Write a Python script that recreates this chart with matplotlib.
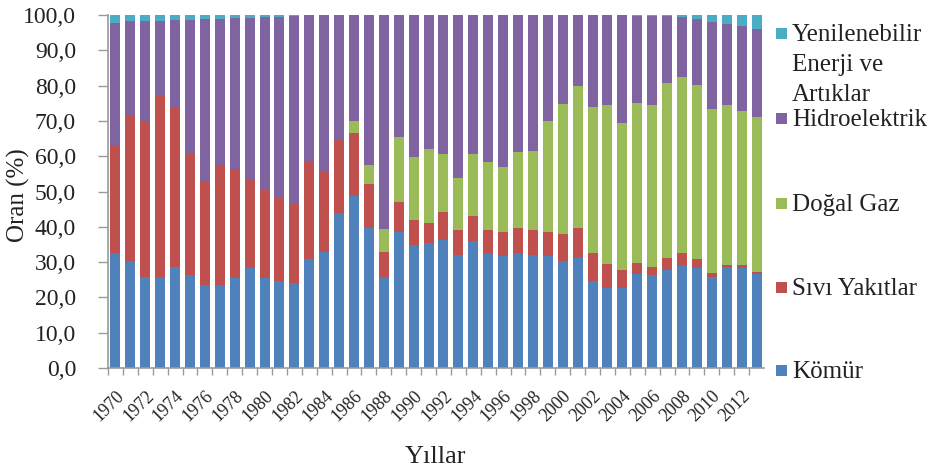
import numpy as np
import matplotlib
matplotlib.use('Agg')
import matplotlib.pyplot as plt
from matplotlib.patches import Rectangle

plt.rcParams['font.family'] = ['Liberation Serif', 'DejaVu Serif']

years = list(range(1970, 2014))

# shares of electricity generation by source (%)
komur = [32.5, 30.3, 25.9, 25.9, 28.6, 26.3, 23.5, 23.5, 25.6, 28.4, 25.6, 24.6, 24.1,
         31.0, 32.9, 43.9, 48.7, 39.7, 25.9, 38.6, 34.8, 35.5, 36.3, 32.1, 35.9, 32.5,
         31.8, 32.5, 32.1, 31.7, 30.4, 31.1, 24.6, 22.8, 22.8, 26.6, 26.3, 27.7, 29.0,
         28.3, 25.9, 28.6, 28.3, 26.5]
sivi = [30.3, 41.5, 44.2, 51.3, 45.0, 34.4, 29.6, 33.8, 30.7, 25.2, 24.9, 23.7, 22.5,
        27.3, 22.8, 20.8, 17.9, 12.5, 7.0, 8.4, 7.1, 5.6, 8.0, 7.0, 7.3, 6.6,
        6.8, 7.1, 7.0, 6.9, 7.6, 8.5, 8.1, 6.6, 4.9, 3.1, 2.4, 3.5, 3.7,
        2.5, 1.1, 0.5, 0.8, 0.7]
dogalgaz = [0.0, 0.0, 0.0, 0.0, 0.0, 0.0, 0.0, 0.0, 0.0, 0.0, 0.0, 0.0, 0.0,
            0.0, 0.0, 0.0, 3.5, 5.4, 6.6, 18.3, 17.9, 21.0, 16.2, 14.8, 17.5, 19.3,
            18.4, 21.5, 22.3, 31.5, 36.8, 40.4, 41.1, 45.1, 41.7, 45.5, 45.8, 49.5, 49.7,
            49.5, 46.5, 45.4, 43.8, 43.9]
hidro = [35.0, 26.5, 28.2, 21.1, 25.0, 37.9, 45.9, 41.7, 42.8, 45.6, 48.8, 51.2, 53.2,
         41.6, 44.2, 35.2, 29.8, 42.3, 60.4, 34.6, 40.1, 37.8, 39.4, 46.0, 39.2, 41.5,
         42.9, 38.8, 38.5, 29.8, 25.1, 19.9, 26.1, 25.4, 30.5, 24.6, 25.3, 19.0, 16.9,
         18.7, 24.4, 23.0, 24.0, 24.8]
yenilenebilir = [2.2, 1.7, 1.7, 1.7, 1.4, 1.4, 1.0, 1.0, 0.9, 0.8, 0.7, 0.5, 0.2,
                 0.1, 0.1, 0.1, 0.1, 0.1, 0.1, 0.1, 0.1, 0.1, 0.1, 0.1, 0.1, 0.1,
                 0.1, 0.1, 0.1, 0.1, 0.1, 0.1, 0.1, 0.1, 0.1, 0.2, 0.2, 0.3, 0.7,
                 1.0, 2.1, 2.5, 3.1, 4.1]

series = [('Kömür', komur, '#4F81BD'),
          ('Sıvı Yakıtlar', sivi, '#C0504D'),
          ('Doğal Gaz', dogalgaz, '#9BBB59'),
          ('Hidroelektrik', hidro, '#8064A2'),
          ('Yenilenebilir\nEnerji ve\nArtıklar', yenilenebilir, '#4BACC6')]

W, H = 943, 470
fig = plt.figure(figsize=(9.43, 4.70), dpi=100)
ax = fig.add_axes([108 / W, 1 - 368 / H, (764 - 108) / W, (368 - 15) / H])

x = np.arange(len(years))
bottom = np.zeros(len(years))
for name, vals, col in series:
    ax.bar(x, vals, bottom=bottom, width=0.67, color=col, linewidth=0)
    bottom += np.array(vals)

ax.set_xlim(-0.5, len(years) - 0.5)
ax.set_ylim(0, 100)

yt = np.arange(0, 101, 10)
ax.set_yticks(yt)
ax.set_yticklabels([f'{v:.1f}'.replace('.', ',') for v in yt], fontsize=17, color='#222222')
ax.tick_params(axis='y', length=7, width=1, color='#9a9a9a', pad=16)

ax.set_xticks(x[::2])
ax.set_xticklabels([str(y) for y in years[::2]], rotation=45, ha='right',
                   rotation_mode='anchor', fontsize=13, color='#222222')
ax.tick_params(axis='x', which='major', length=0, pad=14)
ax.set_xticks(x - 0.5, minor=True)
ax.tick_params(axis='x', which='minor', length=5, width=1, color='#9a9a9a')

for s in ['top', 'right']:
    ax.spines[s].set_visible(False)
for s in ['left', 'bottom']:
    ax.spines[s].set_color('#9a9a9a')
    ax.spines[s].set_linewidth(1.2)

fig.text(18 / W, 1 - 195 / H, 'Oran (%)', rotation=90, ha='center', va='center',
         fontsize=18, color='#222222')
fig.text(436 / W, 1 - 457 / H, 'Yıllar', ha='center', va='center',
         fontsize=19, color='#222222')

# legend, top entry first; text lines 30 px apart
leg_y = [33, 118, 203, 287, 370]
for (name, vals, col), yc in zip(series[::-1], leg_y):
    fig.patches.append(Rectangle((776 / W, 1 - (yc + 5.5) / H), 11 / W, 11 / H,
                                 transform=fig.transFigure, facecolor=col,
                                 edgecolor='none'))
    lines = name.split('\n')
    for k, line in enumerate(lines):
        fig.text(792 / W, 1 - (yc + 8 + 30 * k) / H, line, ha='left', va='baseline',
                 fontsize=18, color='#222222')

fig.savefig('out.png', dpi=100)
